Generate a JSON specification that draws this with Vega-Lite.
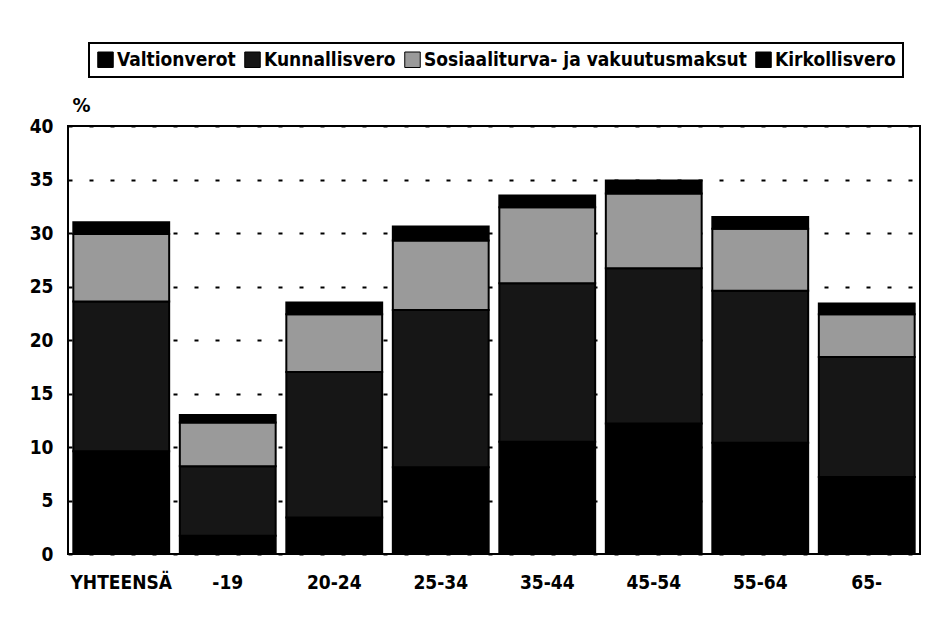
{
  "$schema": "https://vega.github.io/schema/vega-lite/v6.json",
  "autosize": {"type": "none"},
  "width": 852,
  "height": 428,
  "padding": {"left": 68, "top": 126, "right": 15, "bottom": 71},
  "background": "#ffffff",
  "config": {
    "font": "DejaVu Sans Condensed, sans-serif",
    "view": {"stroke": "#000000", "strokeWidth": 2}
  },
  "data": {
    "values": [
      {"ryhma": "YHTEENSÄ", "laji": "Valtionverot", "jarj": 1, "arvo": 9.6},
      {"ryhma": "YHTEENSÄ", "laji": "Kunnallisvero", "jarj": 2, "arvo": 14.0},
      {"ryhma": "YHTEENSÄ", "laji": "Sosiaaliturva- ja vakuutusmaksut", "jarj": 3, "arvo": 6.3},
      {"ryhma": "YHTEENSÄ", "laji": "Kirkollisvero", "jarj": 4, "arvo": 1.1},
      {"ryhma": "-19", "laji": "Valtionverot", "jarj": 1, "arvo": 1.7},
      {"ryhma": "-19", "laji": "Kunnallisvero", "jarj": 2, "arvo": 6.5},
      {"ryhma": "-19", "laji": "Sosiaaliturva- ja vakuutusmaksut", "jarj": 3, "arvo": 4.1},
      {"ryhma": "-19", "laji": "Kirkollisvero", "jarj": 4, "arvo": 0.7},
      {"ryhma": "20-24", "laji": "Valtionverot", "jarj": 1, "arvo": 3.4},
      {"ryhma": "20-24", "laji": "Kunnallisvero", "jarj": 2, "arvo": 13.6},
      {"ryhma": "20-24", "laji": "Sosiaaliturva- ja vakuutusmaksut", "jarj": 3, "arvo": 5.4},
      {"ryhma": "20-24", "laji": "Kirkollisvero", "jarj": 4, "arvo": 1.1},
      {"ryhma": "25-34", "laji": "Valtionverot", "jarj": 1, "arvo": 8.1},
      {"ryhma": "25-34", "laji": "Kunnallisvero", "jarj": 2, "arvo": 14.7},
      {"ryhma": "25-34", "laji": "Sosiaaliturva- ja vakuutusmaksut", "jarj": 3, "arvo": 6.5},
      {"ryhma": "25-34", "laji": "Kirkollisvero", "jarj": 4, "arvo": 1.3},
      {"ryhma": "35-44", "laji": "Valtionverot", "jarj": 1, "arvo": 10.5},
      {"ryhma": "35-44", "laji": "Kunnallisvero", "jarj": 2, "arvo": 14.8},
      {"ryhma": "35-44", "laji": "Sosiaaliturva- ja vakuutusmaksut", "jarj": 3, "arvo": 7.1},
      {"ryhma": "35-44", "laji": "Kirkollisvero", "jarj": 4, "arvo": 1.1},
      {"ryhma": "45-54", "laji": "Valtionverot", "jarj": 1, "arvo": 12.2},
      {"ryhma": "45-54", "laji": "Kunnallisvero", "jarj": 2, "arvo": 14.5},
      {"ryhma": "45-54", "laji": "Sosiaaliturva- ja vakuutusmaksut", "jarj": 3, "arvo": 7.0},
      {"ryhma": "45-54", "laji": "Kirkollisvero", "jarj": 4, "arvo": 1.2},
      {"ryhma": "55-64", "laji": "Valtionverot", "jarj": 1, "arvo": 10.4},
      {"ryhma": "55-64", "laji": "Kunnallisvero", "jarj": 2, "arvo": 14.2},
      {"ryhma": "55-64", "laji": "Sosiaaliturva- ja vakuutusmaksut", "jarj": 3, "arvo": 5.8},
      {"ryhma": "55-64", "laji": "Kirkollisvero", "jarj": 4, "arvo": 1.1},
      {"ryhma": "65-", "laji": "Valtionverot", "jarj": 1, "arvo": 7.2},
      {"ryhma": "65-", "laji": "Kunnallisvero", "jarj": 2, "arvo": 11.2},
      {"ryhma": "65-", "laji": "Sosiaaliturva- ja vakuutusmaksut", "jarj": 3, "arvo": 4.0},
      {"ryhma": "65-", "laji": "Kirkollisvero", "jarj": 4, "arvo": 1.0}
    ]
  },
  "mark": {"type": "bar", "stroke": "#000000", "strokeWidth": 2},
  "encoding": {
    "x": {
      "field": "ryhma",
      "type": "nominal",
      "sort": ["YHTEENSÄ", "-19", "20-24", "25-34", "35-44", "45-54", "55-64", "65-"],
      "scale": {"paddingInner": 0.1, "paddingOuter": 0.05},
      "axis": {
        "title": null,
        "labelAngle": 0,
        "labelFontSize": 19,
        "labelFontWeight": "bold",
        "labelColor": "#000000",
        "labelPadding": 19,
        "ticks": false,
        "domain": false
      }
    },
    "y": {
      "field": "arvo",
      "type": "quantitative",
      "stack": "zero",
      "scale": {"domain": [0, 40], "nice": false},
      "axis": {
        "values": [0, 5, 10, 15, 20, 25, 30, 35, 40],
        "title": "%",
        "titleAngle": 0,
        "titleX": 13,
        "titleY": -15,
        "titleAlign": "center",
        "titleBaseline": "alphabetic",
        "titleFontSize": 20,
        "titleFontWeight": "bold",
        "titleColor": "#000000",
        "labelFontSize": 19,
        "labelFontWeight": "bold",
        "labelColor": "#000000",
        "labelPadding": 15,
        "ticks": false,
        "domain": false,
        "grid": true,
        "gridColor": "#000000",
        "gridWidth": 2,
        "gridDash": [4, 17]
      }
    },
    "color": {
      "field": "laji",
      "type": "nominal",
      "scale": {
        "domain": ["Valtionverot", "Kunnallisvero", "Sosiaaliturva- ja vakuutusmaksut", "Kirkollisvero"],
        "range": ["#000000", "#161616", "#9a9a9a", "#000000"]
      },
      "legend": {
        "title": null,
        "orient": "none",
        "legendX": 21,
        "legendY": -83,
        "direction": "horizontal",
        "columns": 4,
        "columnPadding": 6,
        "padding": 7,
        "strokeColor": "#000000",
        "symbolType": "square",
        "symbolSize": 240,
        "symbolStrokeColor": "#000000",
        "symbolStrokeWidth": 1,
        "symbolOpacity": 1,
        "labelFontSize": 19,
        "labelFontWeight": "bold",
        "labelColor": "#000000",
        "labelOffset": 2,
        "labelLimit": 400,
        "encode": {"legend": {"update": {"strokeWidth": {"value": 2}}}}
      }
    },
    "order": {"field": "jarj", "type": "quantitative"}
  }
}
